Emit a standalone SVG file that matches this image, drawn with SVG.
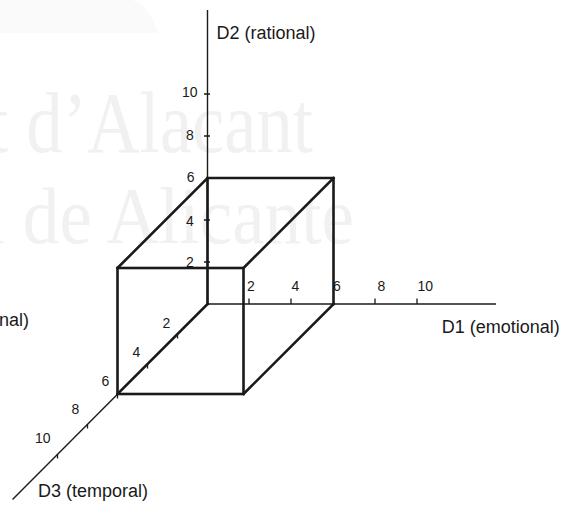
<svg xmlns="http://www.w3.org/2000/svg" width="574" height="505" viewBox="0 0 574 505">
<style>
.axis{stroke:#1a1a1a;stroke-width:1.4;fill:none}
.tick{stroke:#1a1a1a;stroke-width:1.3;fill:none}
.box{stroke:#1a1a1a;stroke-width:2.6;fill:none;stroke-linejoin:miter;stroke-linecap:square}
.num{font-family:"Liberation Sans",Arial,sans-serif;font-size:14px;fill:#1a1a1a}
.lab{font-family:"Liberation Sans",Arial,sans-serif;font-size:18px;fill:#1a1a1a}
.wm{font-family:"Liberation Serif","Times New Roman",serif;fill:#f1f1f1}
</style>
<rect width="574" height="505" fill="#ffffff"/>
<g id="watermark">
<path d="M0,0 H132 Q148,4 158,33 H0 Z" fill="#fafafa"/>
<text class="wm" x="-12" y="152" font-size="86" textLength="325" lengthAdjust="spacingAndGlyphs">t d’Alacant</text>
<text class="wm" x="-32" y="243" font-size="80" textLength="386" lengthAdjust="spacingAndGlyphs">d de Alicante</text>
</g>
<g id="axes">
<line class="axis" x1="207.5" y1="10" x2="207.5" y2="304"/>
<line class="axis" x1="207.5" y1="304" x2="496" y2="304"/>
<line class="axis" x1="207.5" y1="304" x2="12.5" y2="499.5"/>
</g>
<g id="ticks">
<path class="tick" d="M249,304V298.5 M291,304V298.5 M375,304V298.5 M417,304V298.5"/>
<path class="tick" d="M204,94H210 M204,136H210 M204,220H210 M204,262H210"/>
<path class="tick" d="M177.5,334V338.5 M147.5,364V368.5 M117.5,394V398.5 M87.5,424V428.5 M57.5,454V458.5"/>
</g>
<g id="box">
<path class="box" d="M207.5,304 V178 H333.5 V304"/>
<rect class="box" x="117.5" y="268" width="126" height="126"/>
<path class="box" d="M207.5,178 L117.5,268 M333.5,178 L243.5,268 M333.5,304 L243.5,394 M207.5,304 L117.5,394"/>
</g>
<g id="labels-d1">
<text class="num" x="247" y="291">2</text>
<text class="num" x="291.5" y="291">4</text>
<text class="num" x="333" y="291">6</text>
<text class="num" x="377.5" y="291">8</text>
<text class="num" x="417.5" y="291">10</text>
<text class="lab" x="441.7" y="332.5">D1 (emotional)</text>
</g>
<g id="labels-d2">
<text class="num" x="197.5" y="97" text-anchor="end">10</text>
<text class="num" x="193.8" y="140" text-anchor="end">8</text>
<text class="num" x="194.5" y="182" text-anchor="end">6</text>
<text class="num" x="193.8" y="226" text-anchor="end">4</text>
<text class="num" x="193.8" y="267" text-anchor="end">2</text>
<text class="lab" x="216.5" y="39.3">D2 (rational)</text>
</g>
<g id="labels-d3">
<text class="num" x="162.5" y="328">2</text>
<text class="num" x="132.5" y="356.5">4</text>
<text class="num" x="101.5" y="385.5">6</text>
<text class="num" x="71.5" y="414">8</text>
<text class="num" x="35" y="443">10</text>
<text class="lab" x="38" y="497">D3 (temporal)</text>
</g>
<g id="label-left">
<text class="lab" x="-1" y="326">nal)</text>
</g>
</svg>
